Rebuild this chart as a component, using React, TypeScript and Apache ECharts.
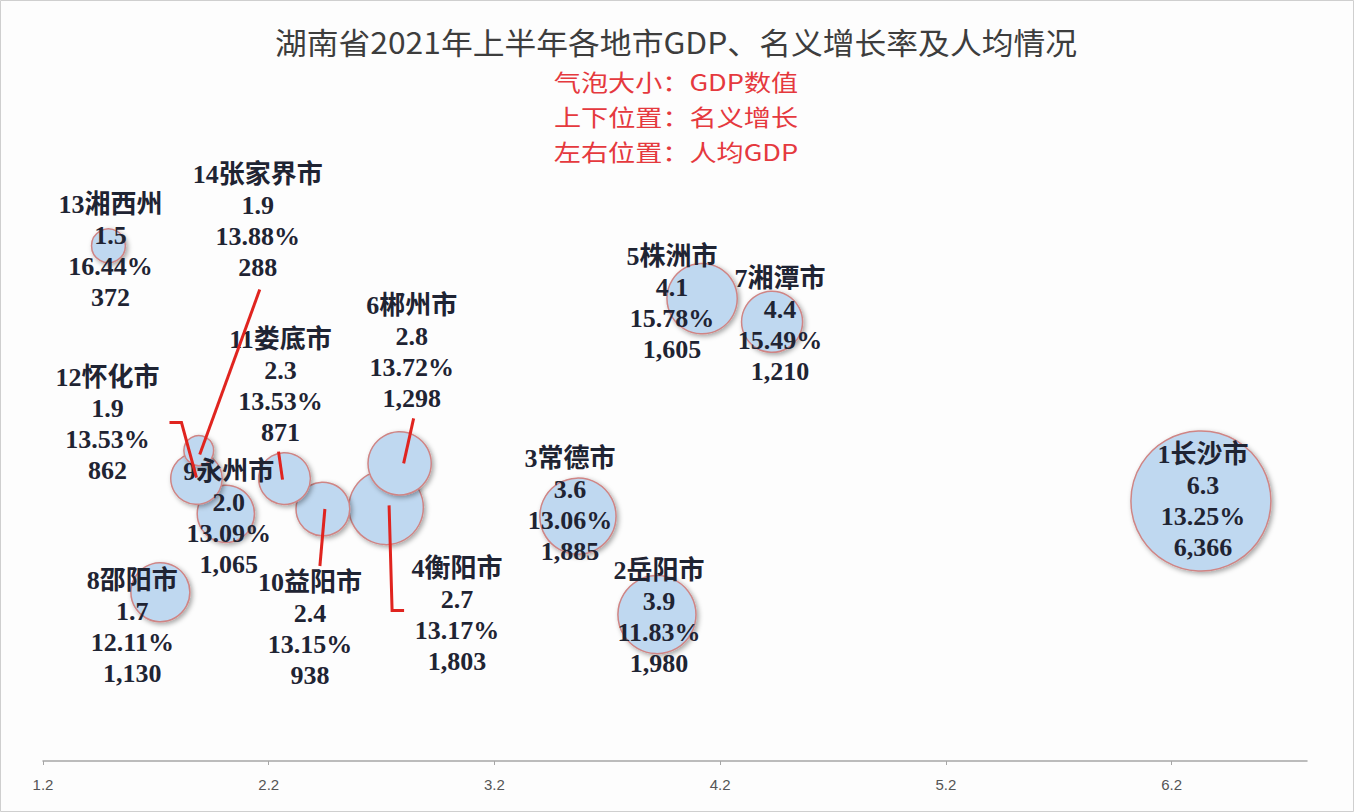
import React, { useEffect, useRef } from "react";
import * as echarts from "echarts";

// ---- data ----
const cities = ["1长沙市", "2岳阳市", "3常德市", "4衡阳市", "5株洲市", "6郴州市", "7湘潭市", "8邵阳市", "9永州市", "10益阳市", "11娄底市", "12怀化市", "13湘西州", "14张家界市"];
const perCapita = [6.33, 3.92, 3.57, 2.72, 4.12, 2.78, 4.43, 1.72, 2.01, 2.44, 2.27, 1.88, 1.49, 1.89]; // 万元
const growth = [13.25, 11.83, 13.06, 13.17, 15.78, 13.72, 15.49, 12.11, 13.09, 13.15, 13.53, 13.53, 16.44, 13.88]; // %
const gdp = [6366, 1980, 1885, 1803, 1605, 1298, 1210, 1130, 1065, 938, 871, 862, 372, 288]; // 亿元
const xTicks = [1.2, 2.2, 3.2, 4.2, 5.2, 6.2];

const titleText = "湖南省2021年上半年各地市GDP、名义增长率及人均情况";
const noteLines = ["气泡大小：GDP数值", "上下位置：名义增长", "左右位置：人均GDP"];

// ---- layout (pixel offsets of labels relative to bubble centre) ----
const labelOffsets: Record<string, number[]> = {
  "1长沙市": [2, 0],
  "2岳阳市": [2, 2],
  "3常德市": [-8, -11],
  "4衡阳市": [71, 108],
  "5株洲市": [-30, 4],
  "6郴州市": [12, -111],
  "7湘潭市": [8, 3],
  "8邵阳市": [-28, 35],
  "9永州市": [3, 4],
  "10益阳市": [-13, 120],
  "11娄底市": [-4, -93],
  "12怀化市": [-89, -55],
  "13湘西州": [2, 5],
  "14张家界市": [59, -230],
};
const leaders: Record<string, number[][]> = {
  "14张家界市": [[61, -161], [1, 4]],
  "11娄底市": [[-6, -27], [-2, 1]],
  "6郴州市": [[14, -45], [4, 0]],
  "12怀化市": [[-27, -56], [-15, -56], [0, -1]],
  "10益阳市": [[2, 0], [-3, 57]],
  "4衡阳市": [[3, -2], [6, 103], [18, 103]],
};

const MAX_D = 140;

export default function App() {
  const ref = useRef<HTMLDivElement>(null);
  useEffect(() => {
    if (!ref.current) return;
    const chart = echarts.init(ref.current, null, { renderer: "svg" });
    const maxG = Math.max(...gdp);
    const scatterData = cities.map((c, i) => ({
      name: c,
      value: [perCapita[i], growth[i], gdp[i]],
      label: { offset: labelOffsets[c] || [0, 0] },
    }));
    const leaderData = cities.map((c, i) => ({ name: c, value: [perCapita[i], growth[i]] }));
    const labelFont = "'Liberation Serif', 'Noto Sans CJK SC', serif";
    const cjk = "'Noto Sans CJK SC', sans-serif";
    chart.setOption({
      animation: false,
      backgroundColor: "#fdfdfd",
      graphic: [
        { type: "rect", shape: { x: 0.5, y: 0.5, width: 1353, height: 811 }, style: { fill: "none", stroke: "#cfcfcf", lineWidth: 1 }, silent: true },
        {
          type: "text",
          x: 676,
          y: 41,
          scaleX: 1.06,
          silent: true,
          style: { text: titleText, fontSize: 30, fill: "#3d3d3d", fontFamily: cjk, align: "center", verticalAlign: "middle" },
        },
        ...noteLines.map((t, i) => ({
          type: "text",
          x: 676,
          y: 81 + i * 35,
          scaleX: 1.18,
          silent: true,
          style: { text: t, fontSize: 23, fill: "#e5393e", fontFamily: cjk, align: "center", verticalAlign: "middle" },
        })),
      ],
      grid: { left: 43, right: 47, top: 121, bottom: 51 },
      xAxis: {
        type: "value",
        min: 1.2,
        max: 6.8,
        splitLine: { show: false },
        axisLine: { show: true, lineStyle: { color: "#a6a6a6", width: 1.5 } },
        axisTick: { show: true, length: 4, lineStyle: { color: "#a6a6a6" }, customValues: xTicks },
        axisLabel: {
          customValues: xTicks,
          formatter: (v: number) => v.toFixed(1),
          color: "#555",
          fontSize: 15,
          margin: 16,
          fontFamily: "'Liberation Sans Narrow', 'Liberation Sans', sans-serif",
        },
      },
      yAxis: { type: "value", min: 10, max: 18, show: false, splitLine: { show: false } },
      series: [
        {
          type: "scatter",
          data: scatterData,
          symbolSize: (v: number[]) => MAX_D * Math.sqrt(v[2] / maxG),
          itemStyle: {
            color: "#bfd8f0",
            borderColor: "#cf8585",
            borderWidth: 1.5,
            shadowBlur: 5,
            shadowColor: "rgba(0,0,0,0.35)",
            shadowOffsetX: 2,
            shadowOffsetY: 2,
            opacity: 1,
          },
          label: {
            show: true,
            position: "inside",
            formatter: (p: any) => {
              const v = p.value;
              return [p.name, v[0].toFixed(1), v[1].toFixed(2) + "%", v[2].toLocaleString("en-US")].join("\n");
            },
            fontSize: 26,
            lineHeight: 31,
            fontWeight: "bold",
            color: "#1f2433",
            fontFamily: labelFont,
            align: "center",
          },
          emphasis: { disabled: true },
          z: 2,
        },
        {
          type: "custom",
          coordinateSystem: "cartesian2d",
          data: leaderData,
          encode: { x: 0, y: 1 },
          silent: true,
          z: 5,
          renderItem: (params: any, api: any) => {
            const name = cities[params.dataIndex];
            const pts = leaders[name];
            if (!pts) return { type: "group", children: [] };
            const c = api.coord([api.value(0), api.value(1)]);
            return {
              type: "polyline",
              shape: { points: pts.map((p) => [c[0] + p[0], c[1] + p[1]]) },
              style: { stroke: "#e0241f", lineWidth: 3, fill: "none" },
            };
          },
        },
      ],
    });
    return () => chart.dispose();
  }, []);
  return <div ref={ref} style={{ position: "absolute", left: 0, top: 0, width: 1354, height: 812 }} />;
}
